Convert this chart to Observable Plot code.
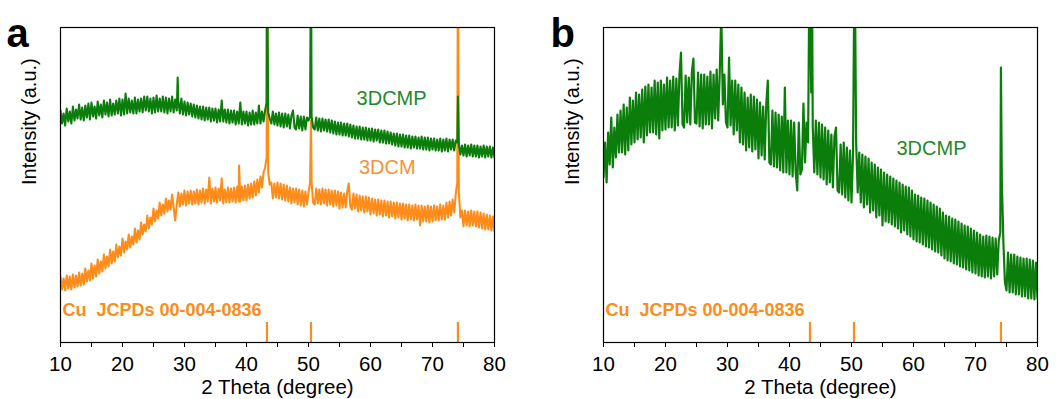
<!DOCTYPE html>
<html><head><meta charset="utf-8">
<script src="https://cdn.jsdelivr.net/npm/d3@7"></script>
<script src="https://cdn.jsdelivr.net/npm/@observablehq/plot@0.6"></script>
<style>
body{margin:0;background:#fff;}
#wrap{display:flex;width:1064px;height:399px;overflow:hidden;}
#wrap svg{flex:none;}
</style></head><body><div id="wrap"></div>
<script>
// ---- data: 2θ grid from 10° to 80° in 0.25° steps, intensity in arbitrary units ----
const gridStart = 10, gridStep = 0.25;
const majorTicks = [10, 20, 30, 40, 50, 60, 70, 80];
const minorTicks = [15, 25, 35, 45, 55, 65, 75];
const cuPeaks = [43.3, 50.4, 74.1];
const cuLabel = "Cu\u00a0\u00a0JCPDs 00-004-0836";
const xTitle = "2 Theta (degree)";
const yTitle = "Intensity (a.u.)";

// panel a, 3DCMP (green) — one row per degree
const cdcmpA = [
232,219,229,217, 234,221,231,219, 236,222,233,224, 238,223,235,222, 237,225,239,223,
240,226,236,224, 241,227,238,225, 242,228,240,226, 243,227,239,228, 242,229,244,227,
243,228,249,229, 244,230,242,229, 245,229,243,231, 244,230,246,232, 246,231,244,229,
245,230,247,231, 244,231,246,230, 245,229,244,231, 246,230,243,232, 242,229,244,228,
241,227,240,228, 239,226,238,225, 237,224,236,223, 236,222,235,223, 235,221,234,222,
234,220,233,221, 242,221,233,220, 233,219,232,220, 232,218,231,219, 240,218,231,219,
231,217,230,218, 232,218,230,219, 237,219,231,221, 232,240,230,224, 219,231,218,229,
217,230,216,229, 215,229,216,228, 214,227,232,215, 213,227,214,226, 212,226,213,225,
222,226,226,215, 213,225,212,224, 211,224,212,223, 211,223,210,222, 209,221,208,220,
208,220,207,219, 207,219,206,218, 205,217,204,216, 204,216,203,215, 203,215,202,214,
202,214,201,213, 202,213,200,212, 200,212,199,211, 199,210,198,209, 197,209,196,208,
196,208,195,207, 195,207,194,206, 195,206,194,205, 194,206,193,205, 193,205,192,204,
193,204,192,203, 192,204,191,203, 192,204,191,203, 193,203,192,202, 200,198,188,197,
187,198,186,197, 187,198,186,197, 186,197,185,196, 186,197,185,196, 186,196,185,195,
185];
const cdcmpAPeaks = [[28.9, 265], [43.3, 400], [50.4, 400], [74.1, 246]];

// panel a, 3DCM (orange)
const cdcmA = [
66,53,64,52, 67,54,66,53, 68,55,67,56, 70,57,69,58, 74,61,72,62,
79,64,77,66, 83,69,81,71, 88,74,86,76, 93,79,91,81, 98,85,96,87,
104,90,101,93, 108,95,106,98, 114,100,112,103, 120,108,118,111, 127,114,125,118,
134,121,132,124, 140,127,138,129, 144,131,142,133, 148,135,122,138, 150,136,149,138,
152,137,151,139, 152,138,151,139, 153,138,152,140, 154,139,153,141, 165,139,154,141,
155,140,154,142, 164,139,153,140, 155,140,154,141, 155,140,156,141, 141,156,142,157,
142,158,144,159, 145,161,147,163, 150,166,155,170, 175,185,170,158, 160,144,159,145,
160,144,159,143, 158,142,157,141, 155,139,154,140, 154,138,153,137, 152,136,151,138,
150,160,160,140, 138,154,139,153, 138,154,139,153, 137,153,138,152, 136,152,137,151,
134,150,135,149, 135,151,159,136, 133,149,134,148, 131,147,132,146, 130,146,131,145,
128,144,129,143, 127,143,128,142, 126,142,127,141, 125,141,126,140, 124,140,125,139,
123,139,124,138, 122,138,123,137, 122,138,123,137, 117,137,121,136, 121,137,120,136,
121,137,122,136, 122,138,123,137, 123,140,125,141, 127,143,130,148, 160,150,125,132,
116,132,117,131, 116,132,117,131, 116,131,115,130, 114,129,113,128, 113,127,112,126,
111];
const cdcmAPeaks = [[38.8, 177], [43.3, 400], [50.4, 222], [74.1, 400]];

// panel b, 3DCMP (green)
const cdcmpB = [
165,200,160,210, 178,225,175,215, 185,228,190,232, 190,238,188,235, 192,245,198,242,
200,250,203,248, 205,253,200,256, 207,258,210,255, 210,262,208,260, 204,262,212,258,
213,265,215,262, 215,266,212,264, 217,268,290,218, 215,267,220,265, 218,270,284,220,
219,270,216,268, 214,268,218,266, 218,271,214,268, 224,273,222,270, 330,238,268,220,
215,285,217,262, 208,262,212,258, 200,255,198,250, 192,245,195,248, 191,246,193,243,
184,240,187,236, 183,238,262,180, 178,232,176,230, 175,228,172,226, 170,255,170,222,
168,222,166,220, 170,152,220,168, 173,239,180,220, 200,400,250,215, 170,222,168,220,
165,218,163,215, 158,212,160,208, 155,206,215,152, 150,198,148,200, 145,195,142,192,
140,190,400,200, 150,190,140,188, 135,186,138,184, 130,180,132,178, 125,175,127,173,
117,170,121,168, 120,166,118,164, 116,162,114,160, 110,158,112,156, 108,155,106,152,
103,148,101,147, 100,145,98,144, 96,142,95,140, 93,138,91,136, 90,134,87,130,
84,127,82,126, 81,124,79,123, 78,121,76,119, 75,117,73,116, 72,114,70,112,
69,110,67,108, 66,106,65,107, 66,106,64,105, 66,104,68,102, 110,160,100,60,
52,90,50,88, 50,88,48,86, 48,85,46,84, 46,84,44,83, 44,82,43,80,
44];
const cdcmpBPeaks = [[43.6, 400], [74.1, 275]];

// ---- styles ----
const GREEN = "#0b7d0b";
const GREEN_TXT = "#23882a";
const ORANGE = "#ff8c1a";
const ORANGE_TXT = "#f7923a";
const FONT = "'Liberation Sans', Arial, Helvetica, sans-serif";

function toPoints(values, peaks) {
  return values.map((v, i) => [gridStart + i * gridStep, v])
    .concat(peaks)
    .sort((a, b) => a[0] - b[0]);
}

function panel({letter, lines, labels, width, ml, mr, letterDx}) {
  return Plot.plot({
    width, height: 399,
    marginLeft: ml, marginRight: mr, marginTop: 27, marginBottom: 57,
    style: {fontFamily: FONT, fontSize: "20px", background: "white", color: "black", overflow: "visible"},
    x: {domain: [10, 80], axis: null},
    y: {domain: [0, 315], axis: null},
    marks: [
      ...lines.map(l => Plot.line(l.data, {x: d => d[0], y: d => d[1], stroke: l.color, strokeWidth: l.sw, clip: true})),
      Plot.ruleX(cuPeaks, {y1: 0, y2: 20, stroke: ORANGE, strokeWidth: 2.2}),
      Plot.text([cuLabel], {x: 10, y: 32, dx: 2, text: d => d, textAnchor: "start", fill: ORANGE, fontWeight: "bold", fontSize: 18}),
      Plot.axisX({ticks: majorTicks, tickSize: 5, tickPadding: 9, fontSize: 20.5, label: null}),
      Plot.axisX({ticks: minorTicks, tickSize: 5, tickFormat: () => "", label: null}),
      Plot.frame({stroke: "black", strokeWidth: 1.2}),
      ...labels.map(l => Plot.text([l.text], {x: l.x, y: l.y, text: d => d, fill: l.color, fontSize: 20})),
      Plot.text([yTitle], {frameAnchor: "left", dx: -31, rotate: -90, text: d => d, fontSize: 20}),
      Plot.text([xTitle], {frameAnchor: "bottom", lineAnchor: "bottom", dy: 51, text: d => d, fontSize: 20.5}),
      Plot.text([letter], {frameAnchor: "top-left", dx: letterDx, dy: 19, lineAnchor: "bottom", textAnchor: "start", fontWeight: "bold", fontSize: 40})
    ]
  });
}

const wrap = document.getElementById("wrap");
wrap.append(panel({
  letter: "a", width: 532, ml: 60, mr: 38, letterDx: -54,
  lines: [
    {data: toPoints(cdcmA, cdcmAPeaks), color: ORANGE, sw: 2.1},
    {data: toPoints(cdcmpA, cdcmpAPeaks), color: GREEN, sw: 2.1}
  ],
  labels: [
    {text: "3DCMP", x: 63.4, y: 244, color: GREEN_TXT},
    {text: "3DCM", x: 62.7, y: 175, color: ORANGE_TXT}
  ]
}));
wrap.append(panel({
  letter: "b", width: 532, ml: 71, mr: 27, letterDx: -53,
  lines: [
    {data: toPoints(cdcmpB, cdcmpBPeaks), color: GREEN, sw: 2.2}
  ],
  labels: [
    {text: "3DCMP", x: 62.9, y: 194, color: GREEN_TXT}
  ]
}));
</script></body></html>
